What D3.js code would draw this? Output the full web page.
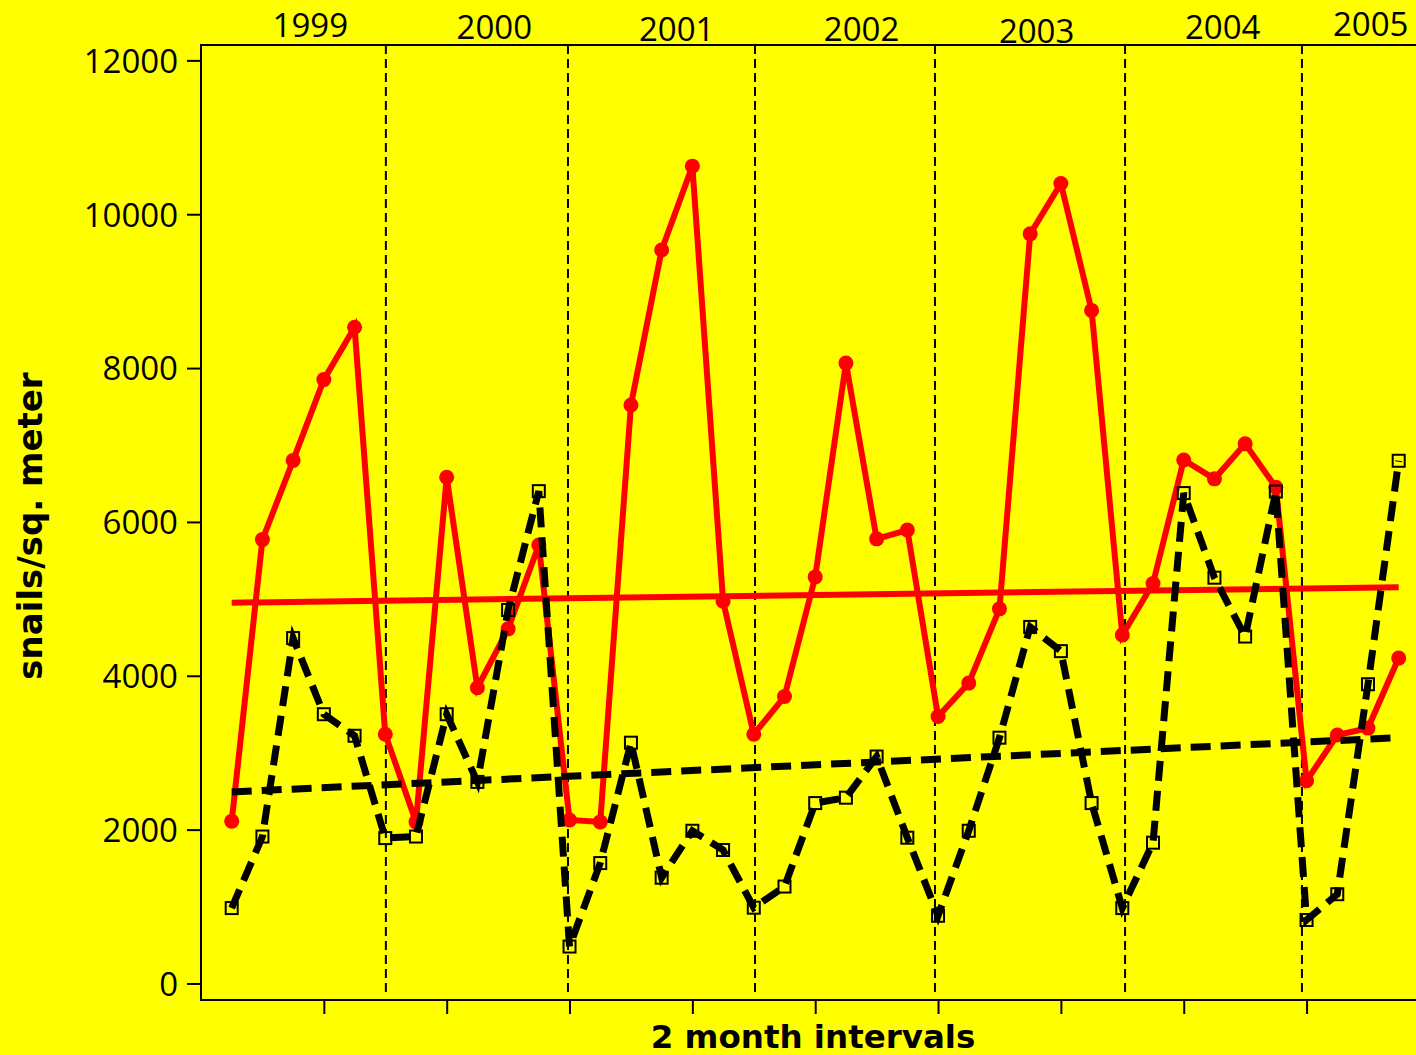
<!DOCTYPE html>
<html>
<head>
<meta charset="utf-8">
<script src="https://cdn.jsdelivr.net/npm/d3@7"></script>
<style>
  html, body { margin: 0; padding: 0; background: #ffff00; overflow: hidden; }
  svg { display: block; }
</style>
</head>
<body>
<svg id="chart" width="1416" height="1055"></svg>
<script>
// 2 month intervals, numbered 1..39
var intervals = d3.range(1, 40);

// snails per sq. meter, red series (solid, dots)
var redVals = [2110, 5770, 6800, 7850, 8530, 3240, 2100, 6580, 3845, 4610,
               5700, 2125, 2100, 7520, 9535, 10625, 4970, 3240, 3730, 5285,
               8065, 5780, 5895, 3470, 3905, 4870, 9745, 10400, 8750, 4530,
               5200, 6805, 6560, 7015, 6450, 2635, 3230, 3320, 4230];

// black series (dashed, open squares)
var blackVals = [980, 1910, 4490, 3500, 3220, 1890, 1910, 3500, 2620, 4855,
                 6400, 480, 1565, 3130, 1375, 1985, 1735, 985, 1260, 2345,
                 2415, 2950, 1895, 880, 1985, 3195, 4635, 4320, 2345, 980,
                 1830, 6375, 5275, 4510, 6395, 825, 1160, 3890, 6795];

// trend lines, value at first and last interval
var redTrend = [4950, 5150];
var blackTrend = [2490, 3195];

// year boundaries (in interval units) and year labels
var yearBreaks = [6.02, 11.95, 18.04, 23.9, 30.09, 35.85];
var years = ["1999", "2000", "2001", "2002", "2003", "2004", "2005"];
var yearPos = [3.56, 9.55, 15.49, 21.51, 27.21, 33.27, 38.09];

var yTicks = [0, 2000, 4000, 6000, 8000, 10000, 12000];
var xTicks = d3.range(4, 40, 4);

// colours
var bgColour = '#ffff00';
var redColour = '#ff0000';
var inkColour = '#000000';

var plotLeft = 201, plotTop = 45, plotBottom = 1000;
var yearBaseline = [37, 38.5, 41, 41, 43, 39, 36];

var svg = d3.select("#chart");

var x = d3.scaleLinear().domain([0, 40]).range([plotLeft, plotLeft + 40 * 30.71]);
var y = d3.scaleLinear().domain([-215, 12200]).range([plotBottom, plotTop]);

svg.append("rect")
  .attr("width", 1416).attr("height", 1055)
  .attr("fill", bgColour);

// frame
svg.append("rect")
  .attr("x", plotLeft).attr("y", plotTop)
  .attr("width", x(40) - plotLeft).attr("height", plotBottom - plotTop)
  .attr("fill", "none")
  .attr("stroke", inkColour)
  .attr("stroke-width", 2);

// y axis
var yAxis = svg.append("g")
  .attr("transform", "translate(" + plotLeft + ",0)")
  .call(d3.axisLeft(y).tickValues(yTicks).tickFormat(d3.format("d"))
    .tickSize(14).tickPadding(9).tickSizeOuter(0));
yAxis.select(".domain").remove();
yAxis.selectAll("line").attr("stroke", inkColour).attr("stroke-width", 2);
yAxis.selectAll("text")
  .attr("font-family", "'Open Sans', sans-serif")
  .attr("font-size", 33)
  .attr("fill", inkColour)
  .attr("dy", "0.36em");

// x axis (ticks only, no labels)
var xAxis = svg.append("g")
  .attr("transform", "translate(0," + plotBottom + ")")
  .call(d3.axisBottom(x).tickValues(xTicks).tickSize(14).tickFormat("").tickSizeOuter(0));
xAxis.select(".domain").remove();
xAxis.selectAll("line").attr("stroke", inkColour).attr("stroke-width", 2);

// year separators
svg.selectAll("line.yearbreak")
  .data(yearBreaks)
  .enter().append("line")
  .attr("class", "yearbreak")
  .attr("x1", function (d) { return x(d); })
  .attr("x2", function (d) { return x(d); })
  .attr("y1", plotTop)
  .attr("y2", 993)
  .attr("stroke", inkColour)
  .attr("stroke-width", 2)
  .attr("stroke-dasharray", "9,5");

// year labels
svg.selectAll("text.year")
  .data(years)
  .enter().append("text")
  .attr("class", "year")
  .attr("x", function (d, i) { return x(yearPos[i]); })
  .attr("y", function (d, i) { return yearBaseline[i]; })
  .attr("text-anchor", "middle")
  .attr("font-family", "'Open Sans', sans-serif")
  .attr("font-size", 33)
  .attr("fill", inkColour)
  .text(function (d) { return d; });

var line = d3.line()
  .x(function (d) { return x(d[0]); })
  .y(function (d) { return y(d[1]); });

function pairs(vals) {
  return vals.map(function (v, i) { return [intervals[i], v]; });
}
var first = intervals[0], last = intervals[intervals.length - 1];

// red series
svg.append("path")
  .datum([[first, redTrend[0]], [last, redTrend[1]]])
  .attr("d", line)
  .attr("fill", "none")
  .attr("stroke", redColour)
  .attr("stroke-width", 6);

svg.append("path")
  .datum(pairs(redVals))
  .attr("d", line)
  .attr("fill", "none")
  .attr("stroke", redColour)
  .attr("stroke-width", 6);

svg.selectAll("circle.red")
  .data(pairs(redVals))
  .enter().append("circle")
  .attr("class", "red")
  .attr("cx", function (d) { return x(d[0]); })
  .attr("cy", function (d) { return y(d[1]); })
  .attr("r", 7.5)
  .attr("fill", redColour);

// black series
svg.append("path")
  .datum([[first, blackTrend[0]], [last, blackTrend[1]]])
  .attr("d", line)
  .attr("fill", "none")
  .attr("stroke", inkColour)
  .attr("stroke-width", 7)
  .attr("stroke-dasharray", "20,10");

svg.append("path")
  .datum(pairs(blackVals))
  .attr("d", line)
  .attr("fill", "none")
  .attr("stroke", inkColour)
  .attr("stroke-width", 7)
  .attr("stroke-dasharray", "20,10");

svg.selectAll("rect.black")
  .data(pairs(blackVals))
  .enter().append("rect")
  .attr("class", "black")
  .attr("x", function (d) { return x(d[0]) - 6; })
  .attr("y", function (d) { return y(d[1]) - 6; })
  .attr("width", 12)
  .attr("height", 12)
  .attr("fill", "none")
  .attr("stroke", inkColour)
  .attr("stroke-width", 2);

// axis titles
svg.append("text")
  .attr("x", 813).attr("y", 1048)
  .attr("text-anchor", "middle")
  .attr("font-family", "'DejaVu Sans', sans-serif")
  .attr("font-weight", "bold")
  .attr("font-size", 32.5)
  .attr("fill", inkColour)
  .text("2 month intervals");

svg.append("text")
  .attr("transform", "translate(42,526) rotate(-90)")
  .attr("text-anchor", "middle")
  .attr("font-family", "'DejaVu Sans', sans-serif")
  .attr("font-weight", "bold")
  .attr("font-size", 34)
  .attr("fill", inkColour)
  .text("snails/sq. meter");
</script>
</body>
</html>
